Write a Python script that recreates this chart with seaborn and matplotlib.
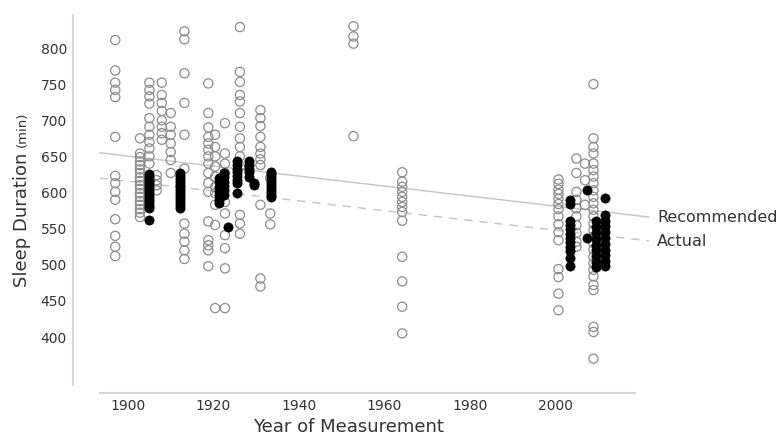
import matplotlib
matplotlib.use("Agg")
import matplotlib.pyplot as plt
import seaborn as sns
import pandas as pd

# Recommended sleep (open circles), one list per survey year
rec_1897 = [811, 769, 752, 742, 732, 677, 623, 613, 601, 590, 563, 540, 525, 512]
rec_1903 = [675, 654, 649, 643, 638, 632, 627, 621, 616, 610, 605, 599, 594, 588, 583, 577, 572, 566]
rec_1905 = [752, 742, 733, 723, 703, 691, 680, 670, 661, 650, 640]
rec_1907 = [624, 617, 610, 603]
rec_1908 = [752, 735, 724, 713, 700, 691, 682, 673]
rec_1910 = [710, 691, 680, 668, 656, 645, 627]
rec_1913 = [823, 812, 765, 724, 680, 633, 557, 543, 532, 520, 508]
rec_1919 = [751, 710, 690, 677, 668, 659, 650, 640, 627, 613, 601, 560, 534, 527, 520, 498]
rec_1920 = [680, 663, 650, 636, 622, 608, 599, 583, 555, 440]
rec_1923 = [696, 654, 640, 627, 587, 571, 541, 523, 495, 440]
rec_1926 = [829, 767, 753, 735, 726, 710, 691, 675, 663, 650, 636, 569, 557, 543]
rec_1931 = [714, 703, 692, 677, 663, 654, 646, 638, 583, 481, 470]
rec_1933 = [620, 571, 556]
rec_1953 = [830, 816, 806, 678]
rec_1964 = [628, 615, 608, 601, 594, 587, 580, 573, 561, 511, 477, 442, 405]
rec_2001 = [618, 612, 604, 598, 591, 584, 577, 567, 556, 545, 534, 494, 483, 460, 437]
rec_2005 = [647, 627, 601, 590, 578, 567, 555, 544, 532, 525]
rec_2007 = [640, 617, 583]
rec_2009 = [750, 675, 663, 654, 640, 631, 622, 613, 603, 594, 585, 576, 567, 557, 548,
            539, 530, 521, 511, 502, 493, 484, 472, 465, 414, 407, 370]

# Actual sleep (filled circles)
act_1905 = [626, 622, 618, 614, 610, 606, 602, 598, 594, 590, 586, 582, 578, 562]
act_1912 = [627, 623, 619, 615, 611, 607, 603, 599, 595, 591, 587, 583, 579]
act_1921 = [620, 614, 608, 602, 596, 590, 585]
act_1922 = [627, 621, 615, 609, 603, 597]
act_1924 = [552]
act_1925 = [643, 638, 633, 628, 623, 618, 613, 599]
act_1928 = [643, 638, 633, 628, 622]
act_1929 = [613, 610]
act_1933 = [629, 625, 621, 617, 613, 609, 605, 601, 597, 594]
act_2004 = [589, 584, 561, 555, 549, 543, 537, 531, 525, 519, 509, 498]
act_2007 = [603, 537]
act_2010 = [560, 552, 544, 536, 528, 520, 512, 504, 497]
act_2012 = [592, 569, 561, 553, 545, 537, 529, 521, 513, 505, 498]

rec_groups = {1897: rec_1897, 1902.8: rec_1903, 1905: rec_1905, 1906.7: rec_1907,
              1907.9: rec_1908, 1910: rec_1910, 1913.2: rec_1913, 1918.8: rec_1919,
              1920.4: rec_1920, 1922.7: rec_1923, 1926.2: rec_1926, 1931: rec_1931,
              1933.3: rec_1933, 1952.8: rec_1953, 1964.2: rec_1964, 2000.8: rec_2001,
              2005: rec_2005, 2007: rec_2007, 2009: rec_2009}
act_groups = {1905: act_1905, 1912.2: act_1912, 1921.2: act_1921, 1922.5: act_1922,
              1923.5: act_1924, 1925.5: act_1925, 1928.4: act_1928, 1929.5: act_1929,
              1933.4: act_1933, 2003.5: act_2004, 2007.4: act_2007, 2009.6: act_2010,
              2011.6: act_2012}

# fitted trend lines (end points)
trend_years = [1893.4, 2022]
rec_trend = [655, 566]
act_trend = [620, 533]


def to_frame(groups):
    rows = [(yr, v) for yr, vals in groups.items() for v in vals]
    return pd.DataFrame(rows, columns=["year", "minutes"])


rec_df = to_frame(rec_groups)
act_df = to_frame(act_groups)

sns.set_style("white")
plt.rcParams["font.family"] = ["DejaVu Sans"]
text_col = "#333333"

fig = plt.figure(figsize=(7.79, 4.37), dpi=100)
ax = fig.add_axes([0.0931, 0.1197, 0.740, 0.8465])

sns.lineplot(x=trend_years, y=rec_trend, ax=ax, color="#c4c4c4", linewidth=1.0, clip_on=False)
sns.lineplot(x=trend_years, y=act_trend, ax=ax, color="#c4c4c4", linewidth=1.0,
             dashes=False, linestyle=(0, (6, 5)), clip_on=False)

sns.scatterplot(data=rec_df, x="year", y="minutes", ax=ax, s=44, facecolor="none",
                edgecolor="#8c8c8c", linewidth=0.9, zorder=3)
sns.scatterplot(data=act_df, x="year", y="minutes", ax=ax, s=44, color="black",
                edgecolor="black", linewidth=0.5, zorder=4)

ax.set_xlim(1887, 2022)
ax.set_ylim(334, 846)
ax.set_xticks([1900, 1920, 1940, 1960, 1980, 2000])
ax.set_yticks([400, 450, 500, 550, 600, 650, 700, 750, 800])
ax.tick_params(length=0, labelsize=10, labelcolor=text_col)
ax.tick_params(axis="x", pad=4)
ax.tick_params(axis="y", pad=4)
ax.set_xlabel("")
ax.set_ylabel("")

sns.despine(ax=ax)
for side in ["left", "bottom"]:
    ax.spines[side].set_color("#d6d6d6")
    ax.spines[side].set_linewidth(1.5)
ax.spines["bottom"].set_position(("outward", 6))
ax.spines["bottom"].set_bounds(1893.4, 2018.7)

fig.text(348 / 779, 1 - 427 / 437, "Year of Measurement", ha="center", va="center",
         fontsize=13, color=text_col)
fig.text(22 / 779, 1 - 220 / 437, "Sleep Duration", ha="center", va="center",
         rotation=90, fontsize=13, color=text_col)
fig.text(22 / 779, 1 - 129 / 437, "(min)", ha="center", va="center",
         rotation=90, fontsize=9.5, color=text_col)
fig.text(657 / 779, 1 - 218 / 437, "Recommended", ha="left", va="center",
         fontsize=11.5, color=text_col)
fig.text(657 / 779, 1 - 242 / 437, "Actual", ha="left", va="center",
         fontsize=11.5, color=text_col)

fig.savefig("out.png", dpi=100)
